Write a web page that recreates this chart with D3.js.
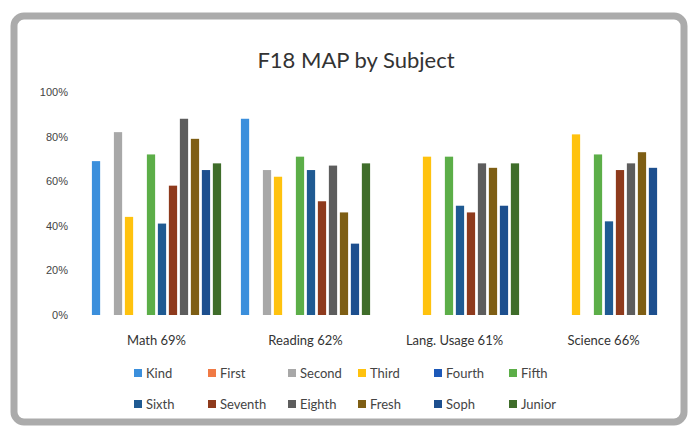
<!DOCTYPE html>
<html>
<head>
<meta charset="utf-8">
<style>
body { margin: 0; background: #fff; }
svg { display: block; font-family: Lato, "Open Sans", sans-serif; }
.axis text { fill: #444; font-size: 11px; }
</style>
</head>
<body>
<div id="chart"></div>
<script src="https://cdn.jsdelivr.net/npm/d3@7"></script>
<script>
// chart data (null = no bar)
var subjects = ['Math 69%', 'Reading 62%', 'Lang. Usage 61%', 'Science 66%'];
var grades = ['Kind', 'First', 'Second', 'Third', 'Fourth', 'Fifth',
              'Sixth', 'Seventh', 'Eighth', 'Fresh', 'Soph', 'Junior'];
var math    = [69, null, 82, 44, null, 72, 41, 58, 88, 79, 65, 68];
var reading = [88, null, 65, 62, null, 71, 65, 51, 67, 46, 32, 68];
var lang    = [null, null, null, 71, null, 71, 49, 46, 68, 66, 49, 68];
var science = [null, null, null, 81, null, 72, 42, 65, 68, 73, 66, null];
var yTicks = [0, 20, 40, 60, 80, 100];

var colors = ['#3b8fdc', '#f07a45', '#a8a8a8', '#ffc20e', '#1c58b8', '#5cae48',
              '#1f5a92', '#8e3a1c', '#5d5d5d', '#7e5e14', '#1d4f8e', '#3f6d2a'];

var rows = [math, reading, lang, science];

var W = 696, H = 433;
var svg = d3.select('#chart').append('svg')
    .attr('width', W).attr('height', H);

// scanned frame
svg.append('rect')
    .attr('x', 14).attr('y', 16)
    .attr('width', 670).attr('height', 406)
    .attr('rx', 10)
    .attr('fill', '#fff')
    .attr('stroke', '#ababab')
    .attr('stroke-width', 7);

svg.append('text')
    .attr('x', 356).attr('y', 68)
    .attr('text-anchor', 'middle')
    .attr('font-size', 22)
    .attr('fill', '#333')
    .text('F18 MAP by Subject');

var x0 = d3.scaleBand().domain(subjects).range([82, 678]);
var x1 = d3.scaleBand().domain(grades).range([0, x0.bandwidth()]).paddingOuter(0.9).paddingInner(0.25);
var y = d3.scaleLinear().domain([0, 100]).range([315, 92]);

var yAxis = d3.axisLeft(y).tickValues(yTicks).tickSize(0).tickPadding(0)
    .tickFormat(function (d) { return d + '%'; });
svg.append('g').attr('class', 'axis')
    .attr('transform', 'translate(68,0)')
    .call(yAxis)
    .call(function (g) { g.select('.domain').remove(); });

var groups = svg.selectAll('g.subj').data(subjects).enter().append('g')
    .attr('class', 'subj')
    .attr('transform', function (d) { return 'translate(' + x0(d) + ',0)'; });

groups.selectAll('rect')
    .data(function (d, i) {
        return grades.map(function (g, j) { return {grade: g, value: rows[i][j], k: j}; })
            .filter(function (d) { return d.value != null; });
    })
    .enter().append('rect')
    .attr('x', function (d) { return x1(d.grade); })
    .attr('width', x1.bandwidth())
    .attr('y', function (d) { return y(d.value); })
    .attr('height', function (d) { return y(0) - y(d.value); })
    .attr('fill', function (d) { return colors[d.k]; });

groups.append('text')
    .attr('x', x0.bandwidth() / 2)
    .attr('y', 345)
    .attr('text-anchor', 'middle')
    .attr('font-size', 13)
    .attr('fill', '#333')
    .text(function (d) { return d; });

// legend, two rows of six
var legX = [134, 208, 288, 358, 434, 509];
var leg = svg.selectAll('g.leg').data(grades).enter().append('g')
    .attr('class', 'leg')
    .attr('transform', function (d, i) {
        return 'translate(' + legX[i % 6] + ',' + (i < 6 ? 378 : 409) + ')';
    });
leg.append('rect')
    .attr('x', 0).attr('y', -9)
    .attr('width', 8).attr('height', 8)
    .attr('fill', function (d, i) { return colors[i]; });
leg.append('text')
    .attr('x', 12).attr('y', 0)
    .attr('font-size', 13)
    .attr('fill', '#444')
    .text(function (d) { return d; });
</script>
</body>
</html>
